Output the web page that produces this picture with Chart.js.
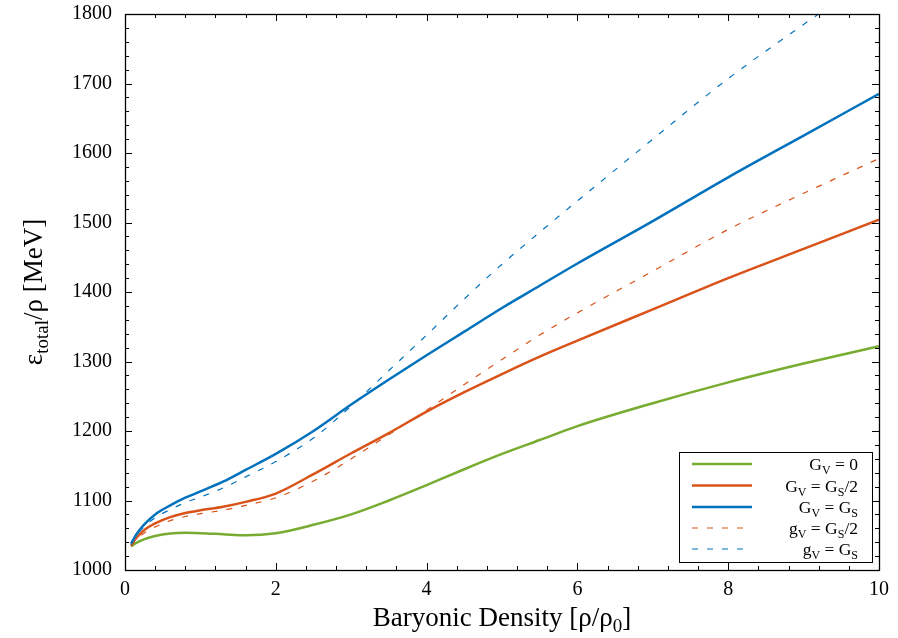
<!DOCTYPE html>
<html><head><meta charset="utf-8">
<script src="https://cdn.jsdelivr.net/npm/chart.js@4/dist/chart.umd.min.js"></script>
<style>html,body{margin:0;padding:0;background:#fff;}#wrap{width:898px;height:638px;}</style>
</head><body><div id="wrap"><canvas id="c" width="898" height="638"></canvas></div>
<script>
// ---- data ----
const density = [0.08,0.15,0.25,0.4,0.6,0.8,1.0,1.3,1.6,2.0,2.5,3.0,3.5,4.0,4.5,5.0,5.5,6.0,7.0,8.0,9.0,10.0];
const densityBlueDashed = [0.08,0.15,0.25,0.4,0.6,0.8,1.0,1.3,1.6,2.0,2.5,3.0,3.5,4.0,4.5,5.0,5.5,6.0,7.0,8.0,9.0,9.2];
const gvZero      = [1034,1039,1044,1049,1052.5,1053.5,1053,1051.5,1050,1053,1065,1080,1100,1122,1145,1167,1187,1207,1240,1270,1297,1322];
const gvHalfGs    = [1036,1046,1057,1067,1076,1082,1086,1091,1098,1110,1138,1168,1197,1228,1256,1282,1307,1330,1375,1420,1462,1504];
const gvGs        = [1038,1051,1065,1080,1093,1104,1113,1127,1144,1167,1200,1238,1274,1309,1343,1377,1409,1441,1502,1565,1625,1685];
const gvHalfGsDash= [1034,1043,1053,1062,1071,1077,1081,1086,1093,1104,1128,1160,1195,1230,1267,1303,1338,1370,1430,1490,1542,1592];
const gvGsDash    = [1036,1049,1062,1075,1087,1097,1105,1118,1134,1156,1190,1236,1287,1338,1390,1440,1486,1531,1620,1707,1785,1800];
const legendLabels = ['G_V = 0','G_V = G_S/2','G_V = G_S','g_V = G_S/2','g_V = G_S'];
const xTitle = 'Baryonic Density [ρ/ρ_0]';
const yTitle = 'ε_{total}/ρ [MeV]';
const xRange = [0,10], yRange = [1000,1800];

const FONT = "'Liberation Serif', 'Times New Roman', serif";
const GREEN = '#77AC30', ORANGE = '#D95319', BLUE = '#0072BD';

function pts(xs, ys){ return xs.map((x,i)=>({x:x,y:ys[i]})); }

function parseRich(s){
  const out=[]; let i=0, buf='';
  while(i<s.length){
    if(s[i]==='_'){
      if(buf){out.push({t:buf,sub:false});buf='';}
      i++;
      if(s[i]==='{'){ const j=s.indexOf('}',i); out.push({t:s.slice(i+1,j),sub:true}); i=j+1; }
      else { out.push({t:s[i],sub:true}); i++; }
    } else { buf+=s[i]; i++; }
  }
  if(buf) out.push({t:buf,sub:false});
  return out;
}
function richWidth(ctx, segs, size, subSize){
  let w=0;
  for(const sg of segs){ ctx.font=(sg.sub?subSize:size)+'px '+FONT; w+=ctx.measureText(sg.t).width; }
  return w;
}
function drawRich(ctx, s, x, y, size, subSize, subShift, align){
  const segs=parseRich(s);
  const w=richWidth(ctx,segs,size,subSize);
  let cx = align==='center'? x-w/2 : (align==='right'? x-w : x);
  ctx.textBaseline='alphabetic'; ctx.textAlign='left'; ctx.fillStyle='#000';
  for(const sg of segs){
    ctx.font=(sg.sub?subSize:size)+'px '+FONT;
    ctx.fillText(sg.t, cx, sg.sub? y+subShift : y);
    cx+=ctx.measureText(sg.t).width;
  }
}

const framePlugin = {
  id:'frame',
  afterDraw(chart){
    const ctx=chart.ctx, a=chart.chartArea, xs=chart.scales.x, ys=chart.scales.y;
    ctx.save();
    ctx.strokeStyle='#000'; ctx.lineWidth=1;
    ctx.beginPath();
    for(let k=0;k<=25;k++){
      const v=xRange[0]+k*0.4; const p=Math.round(xs.getPixelForValue(v))+0.5;
      const L=(k%5===0)?7:4;
      ctx.moveTo(p,a.bottom); ctx.lineTo(p,a.bottom-L);
      ctx.moveTo(p,a.top); ctx.lineTo(p,a.top+L);
    }
    for(let k=0;k<=40;k++){
      const v=yRange[0]+k*20; const p=Math.round(ys.getPixelForValue(v))+0.5;
      const L=(k%5===0)?7:4;
      ctx.moveTo(a.left,p); ctx.lineTo(a.left+L,p);
      ctx.moveTo(a.right,p); ctx.lineTo(a.right-L,p);
    }
    ctx.stroke();
    ctx.lineWidth=1.3;
    ctx.strokeRect(Math.round(a.left)+0.5, Math.round(a.top)+0.5, Math.round(a.right-a.left), Math.round(a.bottom-a.top));

    // legend
    const bx=679.5, by=452.5, bw=193, bh=110;
    ctx.fillStyle='#fff'; ctx.fillRect(bx,by,bw,bh);
    ctx.lineWidth=1; ctx.strokeStyle='#000'; ctx.strokeRect(bx,by,bw,bh);
    const ds=chart.data.datasets;
    const rows=[464,485.5,507,528,549];
    legendLabels.forEach((lab,i)=>{
      const d=ds.find(dd=>dd.legendIndex===i);
      ctx.save();
      ctx.strokeStyle=d.borderColor; ctx.lineWidth=d.borderWidth;
      ctx.setLineDash(d.borderDash||[]);
      ctx.beginPath(); ctx.moveTo(692,rows[i]); ctx.lineTo(752,rows[i]); ctx.stroke();
      ctx.restore();
      drawRich(ctx, lab, 858, rows[i]+6, 17.5, 12, 4, 'right');
    });

    // axis titles
    drawRich(ctx, xTitle, (a.left+a.right)/2, 626, 27, 19, 6, 'center');
    ctx.save();
    ctx.translate(42,(a.top+a.bottom)/2);
    ctx.rotate(-Math.PI/2);
    drawRich(ctx, yTitle, 0, 0, 27, 19, 6, 'center');
    ctx.restore();
    ctx.restore();
  }
};

const common = {pointRadius:0, fill:false, cubicInterpolationMode:'monotone'};
new Chart(document.getElementById('c'), {
  type:'line',
  data:{datasets:[
    Object.assign({label:legendLabels[3], legendIndex:3, data:pts(density,gvHalfGsDash), borderColor:ORANGE, borderWidth:1.2, borderDash:[6,9], order:1}, common),
    Object.assign({label:legendLabels[4], legendIndex:4, data:pts(densityBlueDashed,gvGsDash), borderColor:BLUE, borderWidth:1.2, borderDash:[6,9], order:2}, common),
    Object.assign({label:legendLabels[0], legendIndex:0, data:pts(density,gvZero), borderColor:GREEN, borderWidth:2.5, order:5}, common),
    Object.assign({label:legendLabels[1], legendIndex:1, data:pts(density,gvHalfGs), borderColor:ORANGE, borderWidth:2.5, order:4}, common),
    Object.assign({label:legendLabels[2], legendIndex:2, data:pts(density,gvGs), borderColor:BLUE, borderWidth:2.5, order:3}, common)
  ]},
  options:{
    responsive:false, animation:false, devicePixelRatio:1,
    layout:{padding:{top:14,right:19,left:0,bottom:0}},
    plugins:{legend:{display:false}, tooltip:{enabled:false}},
    scales:{
      x:{type:'linear', min:xRange[0], max:xRange[1],
         grid:{display:false, drawTicks:false}, border:{display:false},
         ticks:{stepSize:2, color:'#000', font:{family:FONT, size:20}, padding:8, maxRotation:0,
                callback:(v)=>String(v)},
         afterFit(s){ s.height=68; s.paddingLeft=0; s.paddingRight=0; }},
      y:{type:'linear', min:yRange[0], max:yRange[1],
         grid:{display:false, drawTicks:false}, border:{display:false},
         ticks:{stepSize:100, color:'#000', font:{family:FONT, size:20}, padding:13,
                callback:(v)=>String(v)},
         afterFit(s){ s.width=125; s.paddingTop=0; s.paddingBottom=0; }}
    }
  },
  plugins:[framePlugin]
});
</script></body></html>
